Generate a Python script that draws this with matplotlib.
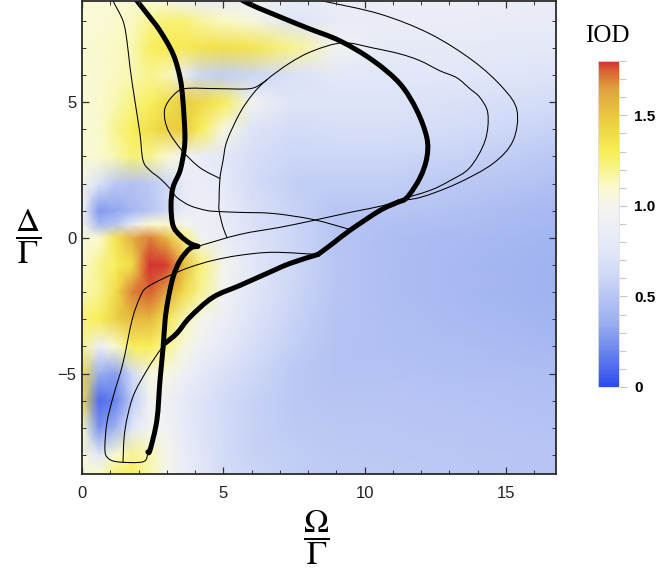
import numpy as np
import matplotlib.pyplot as plt
from matplotlib.colors import LinearSegmentedColormap
from matplotlib.ticker import MultipleLocator
from matplotlib.path import Path
from matplotlib.patches import PathPatch

plt.rcParams['mathtext.fontset'] = 'stix'
plt.rcParams['font.family'] = ['Liberation Sans', 'DejaVu Sans']

# =========================
# Carte IOD (Omega/Gamma, Delta/Gamma)
# =========================
omega = [0, 0.6, 1.2, 1.8, 2.4, 3.0, 3.6, 4.2, 5, 6, 7.5, 9, 11, 13.5, 16.8]
delta = [8.7, 8, 7, 6, 5, 4, 3, 2, 1, 0.5, 0, -1, -2, -3, -4, -5, -6, -7, -8, -8.7]
iod = [
    [1.08, 1.08, 1.08, 1.10, 1.10, 1.05, 0.95, 0.85, 0.85, 0.90, 0.80, 0.85, 0.88, 0.88, 0.85],
    [1.08, 1.08, 1.10, 1.12, 1.20, 1.25, 1.25, 1.18, 1.12, 1.05, 0.72, 0.82, 0.85, 0.85, 0.82],
    [1.08, 1.10, 1.12, 1.15, 1.28, 1.32, 1.32, 1.35, 1.38, 1.35, 1.20, 0.95, 0.80, 0.80, 0.78],
    [1.08, 1.10, 1.12, 1.15, 1.20, 1.15, 0.85, 0.60, 0.55, 0.60, 0.70, 0.78, 0.75, 0.75, 0.72],
    [1.08, 1.10, 1.15, 1.22, 1.28, 1.38, 1.48, 1.42, 1.30, 0.95, 0.72, 0.72, 0.72, 0.70, 0.65],
    [1.08, 1.10, 1.20, 1.30, 1.38, 1.45, 1.48, 1.30, 1.05, 0.72, 0.65, 0.68, 0.68, 0.65, 0.58],
    [1.08, 1.10, 1.15, 1.25, 1.20, 1.10, 0.95, 0.85, 0.78, 0.68, 0.60, 0.60, 0.60, 0.58, 0.52],
    [1.00, 0.70, 0.52, 0.48, 0.52, 0.62, 0.82, 0.85, 0.80, 0.66, 0.56, 0.55, 0.55, 0.52, 0.47],
    [0.95, 0.28, 0.33, 0.42, 0.50, 0.62, 0.82, 0.90, 0.85, 0.70, 0.58, 0.50, 0.50, 0.47, 0.42],
    [1.00, 0.42, 0.50, 0.80, 1.10, 1.10, 1.00, 0.90, 0.85, 0.70, 0.60, 0.50, 0.47, 0.45, 0.41],
    [1.05, 1.10, 1.35, 1.60, 1.70, 1.55, 1.25, 0.95, 0.85, 0.72, 0.60, 0.50, 0.45, 0.43, 0.40],
    [1.10, 1.20, 1.30, 1.40, 1.80, 1.78, 1.55, 1.25, 1.00, 0.78, 0.62, 0.50, 0.45, 0.42, 0.38],
    [1.15, 1.20, 1.40, 1.70, 1.75, 1.62, 1.40, 1.20, 0.95, 0.75, 0.60, 0.50, 0.45, 0.42, 0.38],
    [1.25, 1.30, 1.45, 1.55, 1.55, 1.35, 1.15, 1.00, 0.88, 0.72, 0.58, 0.49, 0.46, 0.43, 0.40],
    [1.20, 0.90, 1.10, 1.30, 1.30, 1.20, 1.05, 0.92, 0.80, 0.68, 0.55, 0.48, 0.47, 0.45, 0.42],
    [1.40, 0.35, 0.30, 0.65, 1.05, 1.05, 0.90, 0.80, 0.70, 0.62, 0.52, 0.48, 0.48, 0.47, 0.45],
    [1.40, 0.10, 0.20, 0.55, 0.95, 0.90, 0.80, 0.72, 0.65, 0.58, 0.52, 0.50, 0.50, 0.49, 0.47],
    [1.10, 0.25, 0.40, 0.75, 0.95, 0.95, 0.82, 0.72, 0.65, 0.58, 0.53, 0.52, 0.51, 0.50, 0.49],
    [1.05, 0.75, 1.10, 1.20, 1.15, 1.00, 0.85, 0.75, 0.65, 0.58, 0.55, 0.53, 0.52, 0.51, 0.50],
    [1.08, 1.10, 1.25, 1.30, 1.15, 1.00, 0.85, 0.75, 0.66, 0.60, 0.55, 0.54, 0.53, 0.52, 0.50],
]

# =========================
# Courbes (frontières)
# =========================
# courbe épaisse gauche, coupée au point de rebroussement
epais1a_x = [1.80, 1.95, 2.35, 2.76, 3.22, 3.47, 3.57, 3.64, 3.61, 3.47, 3.22, 3.15, 3.22, 3.47,
             3.82, 4.10]
epais1a_y = [8.95, 8.73, 8.20, 7.63, 6.78, 5.90, 5.06, 3.84, 3.22, 2.48, 1.86, 1.19, 0.46, 0.09,
             -0.20, -0.31]
epais1b_x = [4.10, 3.82, 3.47, 3.22, 3.04, 2.94, 2.87, 2.76, 2.65, 2.41, 2.33]
epais1b_y = [-0.31, -0.39, -0.83, -1.45, -2.30, -3.03, -4.03, -5.24, -6.71, -7.81, -7.89]

# courbe épaisse droite, coupée au coude
epais2a_x = [5.40, 5.84, 6.76, 7.96, 9.13, 10.29, 11.25, 11.85, 12.20, 12.20, 11.96, 11.50, 11.14,
             10.54, 9.48, 8.88, 8.35]
epais2a_y = [8.95, 8.66, 8.25, 7.74, 7.26, 6.54, 5.68, 4.69, 3.69, 2.96, 2.22, 1.49, 1.30,
             1.01, 0.28, -0.20, -0.61]
epais2b_x = [8.35, 7.36, 6.54, 5.59, 4.63, 3.82, 3.36, 2.94]
epais2b_y = [-0.61, -0.94, -1.31, -1.75, -2.19, -2.92, -3.51, -3.88]

finA_x = [1.06, 1.10, 1.45, 1.59, 1.70, 1.87, 2.05, 2.16, 2.41, 2.76, 3.11, 3.36, 3.82, 4.42,
          4.88, 5.59, 6.76, 8.17, 9.48]
finA_y = [8.92, 8.73, 8.00, 7.26, 6.27, 5.06, 3.84, 2.85, 2.48, 2.19, 1.82, 1.49, 1.19, 1.01,
          0.97, 0.94, 0.90, 0.68, 0.31]

boucle_x = [4.88, 4.17, 3.54, 3.11, 2.94, 2.94, 3.22, 3.64, 4.78, 5.94, 6.40, 6.54]
boucle_y = [2.19, 2.59, 3.22, 3.84, 4.32, 4.80, 5.24, 5.50, 5.50, 5.50, 5.72, 5.83]

finC_x = [5.13, 4.99, 4.85, 4.85, 4.88, 4.99, 5.13, 5.59, 6.05, 6.54, 7.36, 8.17, 9.23, 10.29,
          11.25, 11.96, 12.66, 13.26, 13.72, 14.08, 14.36, 14.26, 13.72, 13.02, 12.31, 11.14]
finC_y = [0.02, 0.39, 1.01, 1.38, 2.19, 2.85, 3.58, 4.61, 5.31, 5.83, 6.45, 6.89, 7.19, 7.00,
          6.78, 6.53, 6.16, 5.90, 5.50, 5.17, 4.58, 3.58, 2.59, 2.11, 1.75, 1.38]

finD_x = [7.71, 8.52, 10.54, 12.31, 13.83, 14.89, 15.39, 15.25, 14.54, 13.26, 11.96, 11.14]
finD_y = [8.92, 8.73, 8.25, 7.52, 6.53, 5.53, 4.69, 3.58, 2.74, 2.00, 1.49, 1.38]

finE_x = [4.10, 5.59, 7.00, 8.17, 9.48, 10.65, 11.14]
finE_y = [-0.31, 0.13, 0.39, 0.64, 0.94, 1.19, 1.38]

finF_x = [8.35, 6.76, 5.59, 4.63, 3.82, 3.11, 2.30, 2.05, 1.77, 1.45, 1.10, 0.88, 0.81, 0.88,
          1.24, 2.16, 2.33]
finF_y = [-0.61, -0.53, -0.64, -0.83, -1.08, -1.38, -1.82, -2.19, -3.03, -4.61, -5.86, -6.82,
          -7.70, -8.07, -8.25, -8.25, -7.92]

finG_x = [1.45, 1.52, 1.80, 2.30, 2.76, 3.01]
finG_y = [-8.25, -7.08, -5.86, -4.87, -4.14, -3.84]

# =========================
# Palette
# =========================
vmax = 1.8
palette_val = [0, 0.1, 0.2, 0.35, 0.5, 0.6, 0.75, 0.9, 1.0, 1.1, 1.2, 1.3, 1.4, 1.5, 1.65, 1.75, 1.8]
palette_col = ['#2b4cf0', '#4e6aee', '#6d86ec', '#9aaef0', '#b8c5f4', '#ccd6f6', '#e2e7f8',
               '#eeeff6', '#f4f4ee', '#fafad0', '#f8f490', '#f8ee58', '#f0dc48', '#e8c840',
               '#e0a040', '#d86030', '#d23030']
cmap = LinearSegmentedColormap.from_list(
    "iod", [(v / vmax, c) for v, c in zip(palette_val, palette_col)])


def trace_lisse(ax, xs, ys, lw):
    # Bézier cubiques passant par les points (Catmull-Rom)
    p = np.column_stack([xs, ys]).astype(float)
    verts, codes = [p[0]], [Path.MOVETO]
    n = len(p)
    for i in range(n - 1):
        p0 = p[i - 1] if i > 0 else p[i]
        p3 = p[i + 2] if i + 2 < n else p[i + 1]
        verts += [p[i] + (p[i + 1] - p0) / 6, p[i + 1] - (p3 - p[i]) / 6, p[i + 1]]
        codes += [Path.CURVE4] * 3
    ax.add_patch(PathPatch(Path(verts, codes), fill=False, edgecolor='black', lw=lw,
                           capstyle='round', joinstyle='round'))


# =========================
# Figure
# =========================
fig = plt.figure(figsize=(6.61, 5.73), dpi=100)
ax = fig.add_axes([82 / 661, 1 - 474 / 573, 474 / 661, 473 / 573])

O, D = np.meshgrid(omega, delta)
mesh = ax.pcolormesh(O, D, np.array(iod), shading='gouraud', cmap=cmap, vmin=0, vmax=vmax)

for xs, ys in [(finA_x, finA_y), (boucle_x, boucle_y), (finC_x, finC_y), (finD_x, finD_y),
               (finE_x, finE_y), (finF_x, finF_y), (finG_x, finG_y)]:
    trace_lisse(ax, xs, ys, 0.75)
for xs, ys in [(epais1a_x, epais1a_y), (epais1b_x, epais1b_y),
               (epais2a_x, epais2a_y), (epais2b_x, epais2b_y)]:
    trace_lisse(ax, xs, ys, 3.6)

ax.set_xlim(0, 16.77)
ax.set_ylim(-8.7, 8.73)
ax.set_xticks([0, 5, 10, 15])
ax.set_yticks([-5, 0, 5])
ax.xaxis.set_minor_locator(MultipleLocator(1))
ax.yaxis.set_minor_locator(MultipleLocator(1))
ax.tick_params(which='both', direction='in', top=True, right=True, color='#333333',
               labelsize=12, labelcolor='#222222')
ax.tick_params(which='major', length=5, width=0.9)
ax.tick_params(which='minor', length=3, width=0.7)
ax.tick_params(axis='x', pad=9)
ax.tick_params(axis='y', pad=4)
for s in ax.spines.values():
    s.set_color('#2a2a2a')
    s.set_linewidth(1.3)

fig.text(28 / 661, 1 - 237 / 573, r'$\dfrac{\Delta}{\Gamma}$', fontsize=24,
         ha='center', va='center')
fig.text(316 / 661, 1 - 538 / 573, r'$\dfrac{\Omega}{\Gamma}$', fontsize=24,
         ha='center', va='center')

# =========================
# Barre de couleur
# =========================
cax = fig.add_axes([598 / 661, 1 - 387 / 573, 21 / 661, 326 / 573])
cb = fig.colorbar(mesh, cax=cax)
cb.set_ticks([0, 0.5, 1.0, 1.5])
cb.set_ticklabels(['0', '0.5', '1.0', '1.5'])
cax.yaxis.set_minor_locator(MultipleLocator(0.1))
cax.tick_params(which='both', color='#c8c8c8', width=0.8)
cax.tick_params(which='major', length=6, pad=5, labelsize=11)
cax.tick_params(which='minor', length=5)
for lab in cax.get_yticklabels():
    lab.set_fontweight('bold')
cb.outline.set_edgecolor('#e0e0e0')
cb.outline.set_linewidth(0.6)
fig.text(607 / 661, 1 - 42 / 573, 'IOD', fontsize=18, family=['Liberation Serif', 'DejaVu Serif'],
         ha='center', va='baseline')

fig.savefig('out.png', dpi=100)
